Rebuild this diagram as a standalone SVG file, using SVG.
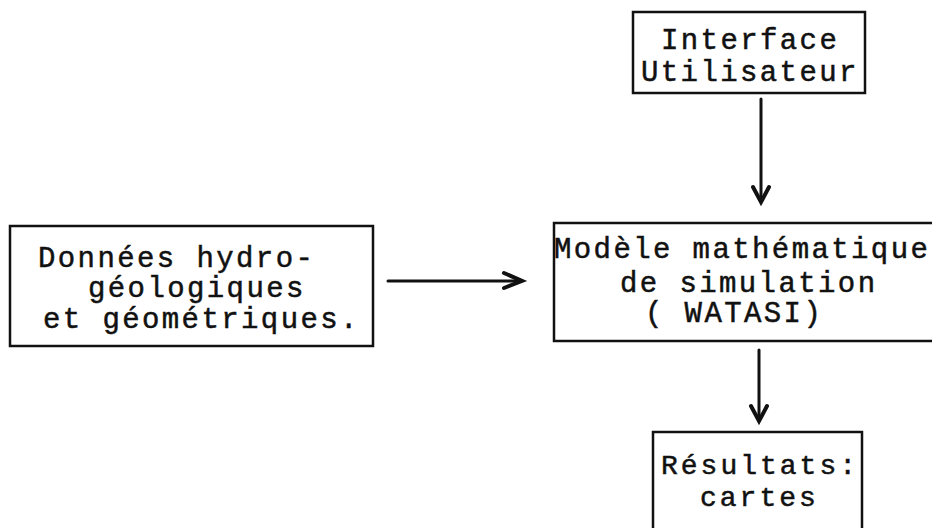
<svg xmlns="http://www.w3.org/2000/svg" width="932" height="528" viewBox="0 0 932 528">
<style>
.box{fill:none;stroke:#111;stroke-width:2.5}
.t{font-family:"Liberation Mono","DejaVu Sans Mono",monospace;font-size:29px;letter-spacing:2.4px;fill:#111;stroke:#111;stroke-width:0.5}
.s{font-size:28px;letter-spacing:3px}
.c{fill:none;stroke:#111;stroke-width:3;stroke-linecap:round}
.h{fill:none;stroke:#111;stroke-width:4;stroke-linecap:round;stroke-linejoin:miter}
</style>
<rect width="932" height="528" fill="#fff"/>
<g id="interface">
<rect class="box" x="633" y="12" width="232" height="81"/>
<text class="t" x="661" y="49">Interface</text>
<text class="t" x="641" y="81">Utilisateur</text>
</g>
<g id="donnees">
<rect class="box" x="10" y="226" width="363" height="120"/>
<text class="t" x="38" y="267">Données hydro-</text>
<text class="t" x="88" y="297">géologiques</text>
<text class="t" x="43" y="328">et géométriques.</text>
</g>
<g id="modele">
<path class="box" d="M940 223 H554 V341 H940"/>
<text class="t" x="554" y="258">Modèle mathématique</text>
<text class="t" x="620" y="292">de simulation</text>
<text class="t" x="645" y="322">( WATASI)</text>
</g>
<g id="resultats">
<path class="box" d="M653 540 V432 H862 V540"/>
<text class="t s" x="661" y="474">Résultats:</text>
<text class="t s" x="700" y="506">cartes</text>
</g>
<g id="connectors">
<path class="c" d="M761 99 V198"/>
<path class="h" d="M753 187 L761 202 L769 187"/>
<path class="c" d="M388 281 H519"/>
<path class="h" d="M504 273 L522 281 L504 288"/>
<path class="c" d="M759 350 V417"/>
<path class="h" d="M751 406 L759 421 L767 406"/>
</g>
</svg>
